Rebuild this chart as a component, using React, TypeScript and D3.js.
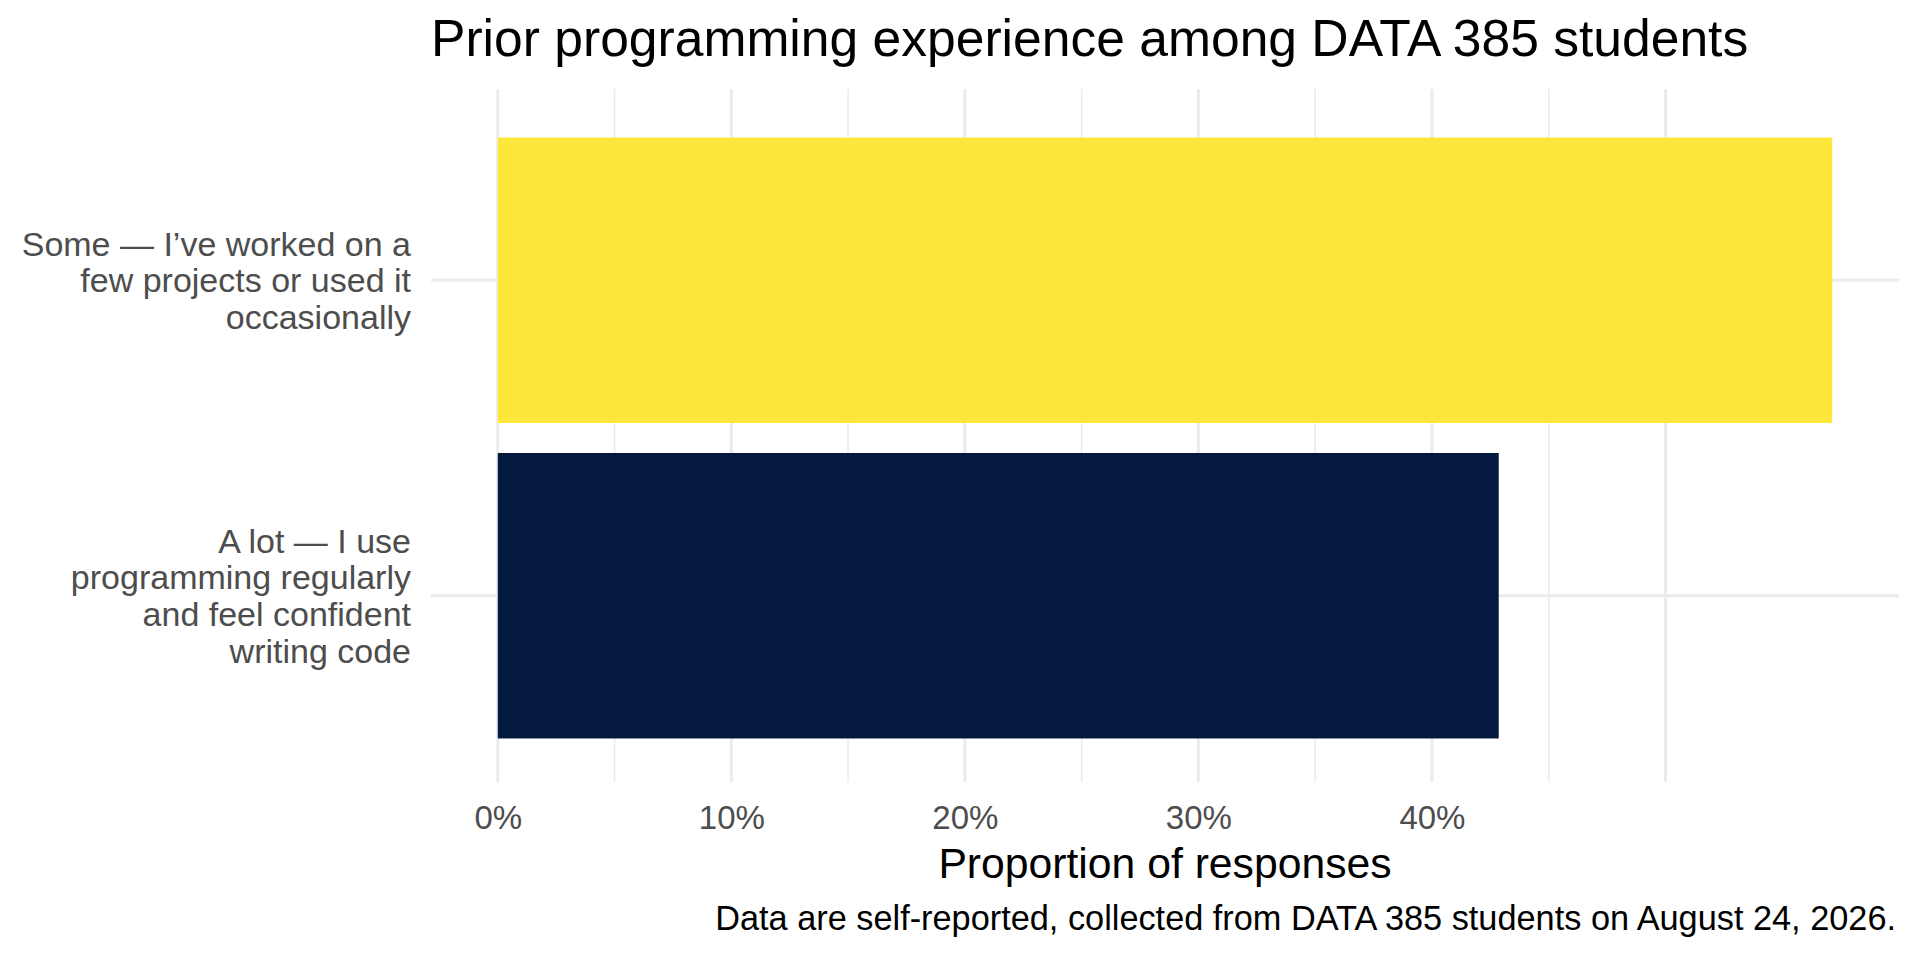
import { axisBottom, scaleLinear, scalePoint, select } from "d3";
import { useEffect, useRef } from "react";

// survey answers, top to bottom
const categories = ["Some", "A lot"];
const categoryLines = [
    ["Some — I’ve worked on a", "few projects or used it", "occasionally"],
    ["A lot — I use", "programming regularly", "and feel confident", "writing code"],
];
const proportions = [0.5714, 0.4286];
const barColors = ["#FDE73A", "#03193D"];

const tickValues = [0, 0.1, 0.2, 0.3, 0.4];
const majorGrid = [0, 0.1, 0.2, 0.3, 0.4, 0.5];
const minorGrid = [0.05, 0.15, 0.25, 0.35, 0.45];

const titleText = "Prior programming experience among DATA 385 students";
const xTitle = "Proportion of responses";
const captionText = "Data are self-reported, collected from DATA 385 students on August 24, 2026.";

export default function App() {
    const ref = useRef<SVGSVGElement>(null);

    useEffect(() => {
        document.body.style.margin = "0";
        const svg = select(ref.current);
        svg.selectAll("*").remove();

        const font = "'Liberation Sans', Arial, Helvetica, sans-serif";
        const panel = { left: 431, right: 1899, top: 91, bottom: 785 };

        const x = scaleLinear()
            .domain([-0.0286, 0.6])
            .range([panel.left, panel.right]);
        const y = scalePoint()
            .domain(categories)
            .range([panel.top, panel.bottom])
            .padding(0.6);
        const barH = y.step() * 0.905;

        const grid = svg.append("g").attr("class", "grid");
        grid.selectAll("line.minor")
            .data(minorGrid)
            .join("line")
            .attr("class", "minor")
            .attr("x1", d => x(d)).attr("x2", d => x(d))
            .attr("y1", panel.top - 2).attr("y2", panel.bottom - 3)
            .attr("stroke", "#EBEBEB")
            .attr("stroke-width", 1.5);
        grid.selectAll("line.major")
            .data(majorGrid)
            .join("line")
            .attr("class", "major")
            .attr("x1", d => x(d)).attr("x2", d => x(d))
            .attr("y1", panel.top - 2).attr("y2", panel.bottom - 3)
            .attr("stroke", "#EBEBEB")
            .attr("stroke-width", 3);
        grid.selectAll("line.hmajor")
            .data(categories)
            .join("line")
            .attr("class", "hmajor")
            .attr("x1", panel.left).attr("x2", panel.right)
            .attr("y1", d => y(d)!).attr("y2", d => y(d)!)
            .attr("stroke", "#EBEBEB")
            .attr("stroke-width", 3);

        svg.append("g")
            .selectAll("rect")
            .data(categories)
            .join("rect")
            .attr("x", x(0))
            .attr("y", d => y(d)! - barH / 2)
            .attr("width", (_d, i) => x(proportions[i]) - x(0))
            .attr("height", barH)
            .attr("fill", (_d, i) => barColors[i]);

        // x axis labels only, no lines
        const xAxis = svg.append("g")
            .attr("transform", `translate(0, ${panel.bottom})`)
            .call(axisBottom(x).tickValues(tickValues).tickFormat(d => `${Math.round(+d * 100)}%`).tickSize(0).tickPadding(44));
        xAxis.select(".domain").remove();
        xAxis.selectAll("text")
            .attr("font-family", font)
            .attr("font-size", 33)
            .attr("fill", "#4D4D4D")
            .attr("dy", null);

        // y labels, right aligned, wrapped
        const lh = 36.7;
        const yl = svg.append("g");
        categories.forEach((c, i) => {
            const lines = categoryLines[i];
            const t = yl.append("text")
                .attr("text-anchor", "end")
                .attr("font-family", font)
                .attr("font-size", 34)
                .attr("fill", "#4D4D4D");
            lines.forEach((s, j) => {
                t.append("tspan")
                    .attr("x", 411)
                    .attr("y", y(c)! + (j - (lines.length - 1) / 2) * lh + 12)
                    .text(s);
            });
        });

        svg.append("text")
            .attr("x", panel.left)
            .attr("y", 55.5)
            .attr("font-family", font)
            .attr("font-size", 51.6)
            .attr("fill", "#000")
            .text(titleText);

        svg.append("text")
            .attr("x", (panel.left + panel.right) / 2)
            .attr("y", 878)
            .attr("text-anchor", "middle")
            .attr("font-family", font)
            .attr("font-size", 42.7)
            .attr("fill", "#000")
            .text(xTitle);

        svg.append("text")
            .attr("x", 1896)
            .attr("y", 930)
            .attr("text-anchor", "end")
            .attr("font-family", font)
            .attr("font-size", 34.3)
            .attr("fill", "#000")
            .text(captionText);
    }, []);

    return (
        <svg ref={ref} width={1920} height={960} viewBox="0 0 1920 960" style={{ display: "block", background: "#fff" }}></svg>
    );
}
